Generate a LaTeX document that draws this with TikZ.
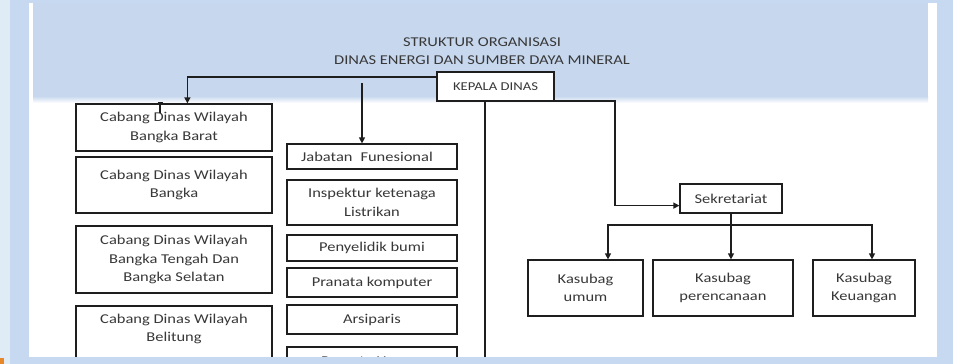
\documentclass[tikz,border=0pt]{standalone}
\usepackage{fontspec}
\setmainfont{Carlito}[FakeStretch=1.22]
\usetikzlibrary{arrows.meta,calc}
\definecolor{bgblue}{HTML}{C6D9F1}
\definecolor{hdrblue}{HTML}{C7D7EE}
\definecolor{lightstrip}{HTML}{DFEBF5}
\definecolor{orng}{HTML}{E8862A}
\definecolor{ink}{HTML}{1E1E1E}
\definecolor{txt}{HTML}{383838}
\begin{document}
\begin{tikzpicture}[x=1pt,y=-1pt,
  box/.style={draw=ink, line width=1.2pt, fill=white, inner sep=0pt, align=center, text=txt, font=\fontsize{13.5}{18.5}\selectfont},
  conn/.style={draw=ink, line width=1.2pt},
  arr/.style={conn, -{Triangle[length=6pt,width=6pt]}},
  lbl/.style={text=txt, inner sep=0pt, align=center, font=\fontsize{13.5}{18.5}\selectfont}]
\useasboundingbox (0,0) rectangle (953,364);
% background
\fill[bgblue] (0,0) rectangle (953,364);
\fill[lightstrip] (0,0) rectangle (10,364);
\fill[white] (29,3) rectangle (937,357);
\fill[hdrblue] (33,3) rectangle (928,96);
\shade[top color=hdrblue, bottom color=white] (33,96) rectangle (928,103);
% title
\node[lbl, font=\fontsize{13.5}{18}\selectfont] (title) at (482,51) {STRUKTUR ORGANISASI\\DINAS ENERGI DAN SUMBER DAYA MINERAL};
% head box
\node[box, font=\fontsize{12}{14}\selectfont, minimum width=117, minimum height=29] (kepala) at (495.5,86.5) {KEPALA DINAS};
% left column
\node[box, minimum width=196, minimum height=47] (cab1) at (174,127.5) {Cabang Dinas Wilayah\\Bangka Barat};
\node[box, minimum width=196, minimum height=56] (cab2) at (174,185) {Cabang Dinas Wilayah\\Bangka};
\node[box, minimum width=196, minimum height=67] (cab3) at (174,259.5) {Cabang Dinas Wilayah\\Bangka Tengah Dan\\Bangka Selatan};
\draw[conn] (76,306) rectangle (272,380);
\node[lbl] (cab4) at (174,329) {Cabang Dinas Wilayah\\Belitung};
% middle column
\node[box, minimum width=170, minimum height=25] (jab) at (372,156.5) {Jabatan\hspace{8pt}Funesional\hspace*{10pt}};
\node[box, minimum width=170, minimum height=45] (insp) at (372,202.5) {Inspektur ketenaga\\Listrikan};
\node[box, minimum width=170, minimum height=26] (peny) at (372,248) {Penyelidik bumi};
\node[box, minimum width=170, minimum height=29] (pran) at (372,282.5) {Pranata komputer};
\node[box, minimum width=170, minimum height=29] (arsi) at (372,319.5) {Arsiparis};
\draw[conn] (287,347) rectangle (457,380);
\node[lbl] (humas) at (372,361) {Pranata Humas};
% right part
\node[box, minimum width=102, minimum height=29] (sek) at (731,198.5) {Sekretariat};
\node[box, minimum width=115, minimum height=56] (kumum) at (585.5,288) {Kasubag\\umum};
\node[box, minimum width=140, minimum height=56] (kperen) at (723,288) {Kasubag\\perencanaan};
\node[box, minimum width=102, minimum height=56] (kkeu) at (864,288) {Kasubag\\Keuangan};
% connectors
\coordinate (kl) at (437,77);
\draw[arr] (kl) -| ($(cab1.north west)+(112,0)$);
\coordinate (jt) at (362,83);
\draw[arr] (jt) -- (jt |- jab.north);
\coordinate (kb) at (485,101);
\coordinate (kr) at (615,101);
\draw[conn] (kb) -- (485,380);
\draw[arr] (kb) -- (kr) |- ($(sek.south west)+(0,-8)$);
\coordinate (sb) at (731,225);
\draw[conn] (sek.south) -- (sb);
\draw[arr] (sb) -| ($(kumum.north)+(22.5,0)$);
\draw[arr] (sb) -| ($(kkeu.north)+(8,0)$);
\draw[arr] (sb) -- ($(kperen.north)+(8,0)$);
% text cursor mark
\draw[ink, line width=1.6pt] (160,103) -- (160,113);
\draw[ink, line width=0.8pt] (157.5,102.5) -- (162.5,102.5);
% bottom strip covering cut-off parts
\fill[bgblue] (10,357) rectangle (953,364);
\fill[lightstrip] (0,357) rectangle (10,364);
\fill[orng] (0,358) rectangle (4,364);
\end{tikzpicture}
\end{document}
